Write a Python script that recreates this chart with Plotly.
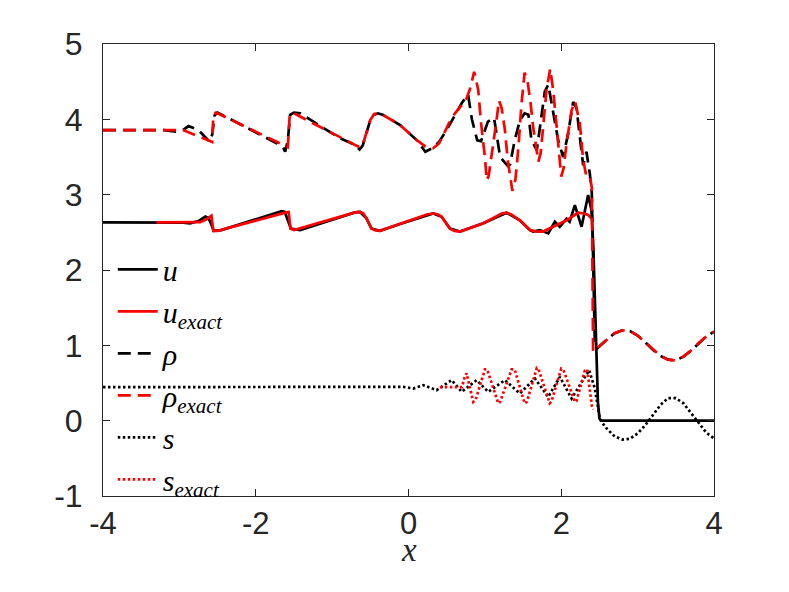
import plotly.graph_objects as go

# ---------------- data ----------------
x_u = [-4, -3.2, -3.04, -2.95, -2.86, -2.75, -2.66, -2.62, -2.58, -2.55, -2.45,
       -1.66, -1.62, -1.58, -1.54, -1.42, -0.70, -0.635, -0.55, -0.485, -0.374,
       -0.11, 0.324, 0.434, 0.543, 0.674, 0.98, 1.285, 1.458, 1.59, 1.632, 1.72,
       1.763, 1.83, 1.916, 1.98, 2.07, 2.11, 2.178, 2.266, 2.352, 2.396, 2.42,
       2.44, 2.46, 2.48, 2.50, 2.52, 4.0]
u_num = [2.632, 2.632, 2.64, 2.63, 2.62, 2.65, 2.71, 2.69, 2.60, 2.52, 2.53,
         2.78, 2.77, 2.65, 2.55, 2.53, 2.765, 2.77, 2.685, 2.55, 2.52,
         2.61, 2.75, 2.707, 2.55, 2.51, 2.62, 2.76, 2.66, 2.53, 2.51, 2.53,
         2.51, 2.486, 2.64, 2.574, 2.68, 2.64, 2.86, 2.574, 2.995, 2.795, 2.3,
         1.5, 0.8, 0.25, 0.03, 0.0, 0.0]

x_uex = [-3.3, -2.85, -2.73, -2.65, -2.58, -2.555, -2.50, -1.60, -1.57, -1.545,
         -1.50, -0.70, -0.635, -0.59, -0.55, -0.485, -0.43, -0.374, 0.25, 0.324,
         0.38, 0.434, 0.543, 0.60, 0.674, 0.98, 1.22, 1.285, 1.34, 1.458, 1.59,
         1.68, 1.763, 2.07, 2.22, 2.30, 2.352, 2.396, 2.41]
u_ex = [2.632, 2.632, 2.635, 2.67, 2.72, 2.52, 2.52, 2.765, 2.77, 2.55,
        2.53, 2.765, 2.77, 2.75, 2.685, 2.55, 2.525, 2.52, 2.74, 2.75,
        2.74, 2.707, 2.55, 2.52, 2.51, 2.62, 2.75, 2.76, 2.74, 2.66, 2.53,
        2.51, 2.51, 2.66, 2.76, 2.75, 2.73, 2.685, 2.68]

x_rho = [-4, -3.2, -3.05, -2.95, -2.88, -2.80, -2.73, -2.64, -2.60, -2.57, -2.54,
         -2.50, -1.94, -1.72, -1.64, -1.615, -1.58, -1.55, -1.50, -1.42, -0.90,
         -0.70, -0.64, -0.60, -0.55, -0.50, -0.45, -0.40, -0.33, -0.11, 0.107,
         0.22, 0.30, 0.40, 0.50, 0.60, 0.70, 0.78, 0.83, 0.90, 0.95, 1.04, 1.12,
         1.20, 1.30, 1.33, 1.39, 1.46, 1.52, 1.57, 1.61, 1.68, 1.72, 1.785, 1.83,
         1.894, 1.96, 2.025, 2.09, 2.156, 2.20, 2.243, 2.287, 2.33, 2.374, 2.40,
         2.42, 2.44, 2.46, 2.5, 2.6, 2.7, 2.8, 2.9, 3.0, 3.1, 3.2, 3.3, 3.4, 3.5,
         3.6, 3.7, 3.8, 3.9, 4.0]
rho_num = [3.857, 3.857, 3.836, 3.86, 3.911, 3.88, 3.835, 3.748, 3.70, 3.80, 4.05,
           4.09, 3.80, 3.68, 3.62, 3.57, 3.72, 4.06, 4.09, 4.08, 3.75,
           3.66, 3.60, 3.65, 3.82, 3.99, 4.06, 4.08, 4.057, 3.924, 3.725,
           3.57, 3.61, 3.70, 3.86, 4.04, 4.22, 4.33, 4.00, 3.72, 3.71, 3.97, 4.02,
           3.50, 3.38, 3.40, 3.72, 3.99, 4.08, 4.06, 3.72, 3.59, 3.90, 4.37, 4.46,
           4.08, 3.72, 3.50, 3.81, 4.23, 4.15, 3.77, 3.39, 3.57, 3.28, 3.02,
           2.0, 1.0, 0.95, 0.99, 1.08, 1.16, 1.20, 1.19, 1.13, 1.04, 0.94, 0.86, 0.81, 0.80,
           0.85, 0.93, 1.03, 1.12, 1.18]

x_rhoex = [-4, -2.95, -2.57, -2.555, -2.52, -1.60, -1.58, -1.555, -1.52, -0.70,
           -0.64, -0.60, -0.55, -0.50, -0.45, -0.40, -0.33, -0.11, 0.107, 0.22,
           0.32, 0.40, 0.455, 0.53, 0.608, 0.75, 0.804, 0.86, 0.913, 0.95, 1.0,
           1.025, 1.05, 1.088, 1.153, 1.185, 1.22, 1.262, 1.30, 1.36, 1.40, 1.436,
           1.48, 1.52, 1.56, 1.60, 1.632, 1.70, 1.73, 1.763, 1.807, 1.855, 1.894,
           1.94, 2.0, 2.03, 2.07, 2.135, 2.18, 2.243, 2.287, 2.33, 2.374, 2.40,
           2.41, 2.417, 2.5, 2.6, 2.7, 2.8, 2.9, 3.0, 3.1, 3.2, 3.3, 3.4, 3.5, 3.6,
           3.7, 3.8, 3.9, 4.0]
rho_ex = [3.857, 3.857, 3.70, 4.06, 4.09, 3.64, 3.63, 4.06, 4.09, 3.66,
          3.63, 3.66, 3.82, 3.99, 4.07, 4.08, 4.057, 3.924, 3.725, 3.64,
          3.615, 3.68, 3.79, 3.95, 4.08, 4.25, 4.40, 4.63, 4.39, 3.95, 3.50,
          3.19, 3.25, 3.50, 3.99, 4.25, 4.15, 3.86, 3.45, 3.05, 3.20, 3.59,
          4.21, 4.62, 4.50, 4.20, 3.90, 3.44, 3.55, 3.90, 4.39, 4.67, 4.39,
          3.90, 3.24, 3.35, 3.68, 4.12, 4.24, 3.95, 3.46, 3.24, 3.24, 3.10,
          1.5, 0.914, 0.99, 1.08, 1.16, 1.20, 1.19, 1.13, 1.04, 0.94, 0.86, 0.81, 0.80, 0.85,
          0.93, 1.03, 1.12, 1.18]

x_s = [-4, -0.25, -0.07, 0.063, 0.194, 0.369, 0.565, 0.696, 0.892, 1.044, 1.262,
       1.458, 1.655, 1.829, 1.982, 2.135, 2.365, 2.44, 2.505, 2.53, 2.6, 2.7,
       2.8, 2.9, 3.0, 3.1, 3.2, 3.3, 3.4, 3.5, 3.6, 3.7, 3.8, 3.9, 4.0]
s_num = [0.445, 0.441, 0.449, 0.427, 0.471, 0.405, 0.538, 0.383, 0.538, 0.383, 0.538,
         0.361, 0.56, 0.316, 0.582, 0.294, 0.67, 0.427, 0.033, -0.02, -0.11, -0.21,
         -0.25, -0.24, -0.17, -0.06, 0.08, 0.21, 0.30, 0.30, 0.23, 0.10, -0.04, -0.16, -0.235]

x_sex = [0.41, 0.70, 0.73, 0.76, 0.80, 0.848, 0.88, 0.94, 1.0, 1.03, 1.10, 1.175,
         1.20, 1.27, 1.35, 1.39, 1.45, 1.52, 1.55, 1.61, 1.68, 1.70, 1.77, 1.85,
         1.87, 1.93, 2.0, 2.03, 2.10, 2.178, 2.20, 2.25, 2.31, 2.34, 2.37, 2.40, 2.42]
s_ex = [0.445, 0.445, 0.56, 0.63, 0.45, 0.25, 0.28, 0.48, 0.68, 0.68, 0.45, 0.23,
        0.25, 0.46, 0.68, 0.68, 0.46, 0.23, 0.25, 0.46, 0.70, 0.69, 0.46, 0.23,
        0.25, 0.46, 0.69, 0.67, 0.46, 0.25, 0.26, 0.46, 0.67, 0.68, 0.46, 0.20, 0.15]

x_tickvals = [-4, -2, 0, 2, 4]
x_ticktext = ["-4", "-2", "0", "2", "4"]
y_tickvals = [-1, 0, 1, 2, 3, 4, 5]
y_ticktext = ["-1", "0", "1", "2", "3", "4", "5"]

# ---------------- figure ----------------
LW = 2.7
DASH = "13px,7px"
DOT = "2.5px,2.5px"

series = [
    (x_u, u_num, "<i>u</i>", "black", "solid"),
    (x_uex, u_ex, "<i>u</i><sub><i>exact</i></sub>", "red", "solid"),
    (x_rho, rho_num, "<i>ρ</i>", "black", DASH),
    (x_rhoex, rho_ex, "<i>ρ</i><sub><i>exact</i></sub>", "red", DASH),
    (x_s, s_num, "<i>s</i>", "black", DOT),
    (x_sex, s_ex, "<i>s</i><sub><i>exact</i></sub>", "red", DOT),
]

fig = go.Figure()
for i, (xs, ys, name, col, dash) in enumerate(series):
    fig.add_trace(go.Scatter(x=xs, y=ys, mode="lines", name=name,
                             line=dict(color=col, width=LW, dash=dash)))

axis_common = dict(showline=True, linecolor="#262626", linewidth=1, mirror="allticks",
                   ticks="inside", ticklen=7, tickcolor="#262626", showgrid=False,
                   zeroline=False)

fig.update_layout(
    width=789, height=592,
    margin=dict(l=95, r=83, t=36, b=104),
    paper_bgcolor="white", plot_bgcolor="white",
    xaxis=dict(range=[-4, 4], tickvals=x_tickvals, ticktext=x_ticktext,
               tickfont=dict(family="Liberation Sans", size=31, color="#262626"),
               **axis_common),
    yaxis=dict(range=[-1, 5], tickvals=y_tickvals, ticktext=y_ticktext,
               tickfont=dict(family="Liberation Sans", size=32, color="#262626"),
               ticklabelstandoff=13, **axis_common),
    legend=dict(x=0.016, y=0.559, xanchor="left", yanchor="top",
                bgcolor="rgba(0,0,0,0)", borderwidth=0,
                font=dict(family="Liberation Serif", size=30, color="black"),
                itemwidth=40),
    showlegend=True,
    annotations=[dict(text="<i>x</i>", xref="x", yref="paper", x=0, y=0,
                      yanchor="middle", yshift=-54, showarrow=False,
                      font=dict(family="Liberation Serif", size=33, color="#262626"))],
)

fig.write_html("out.html")
